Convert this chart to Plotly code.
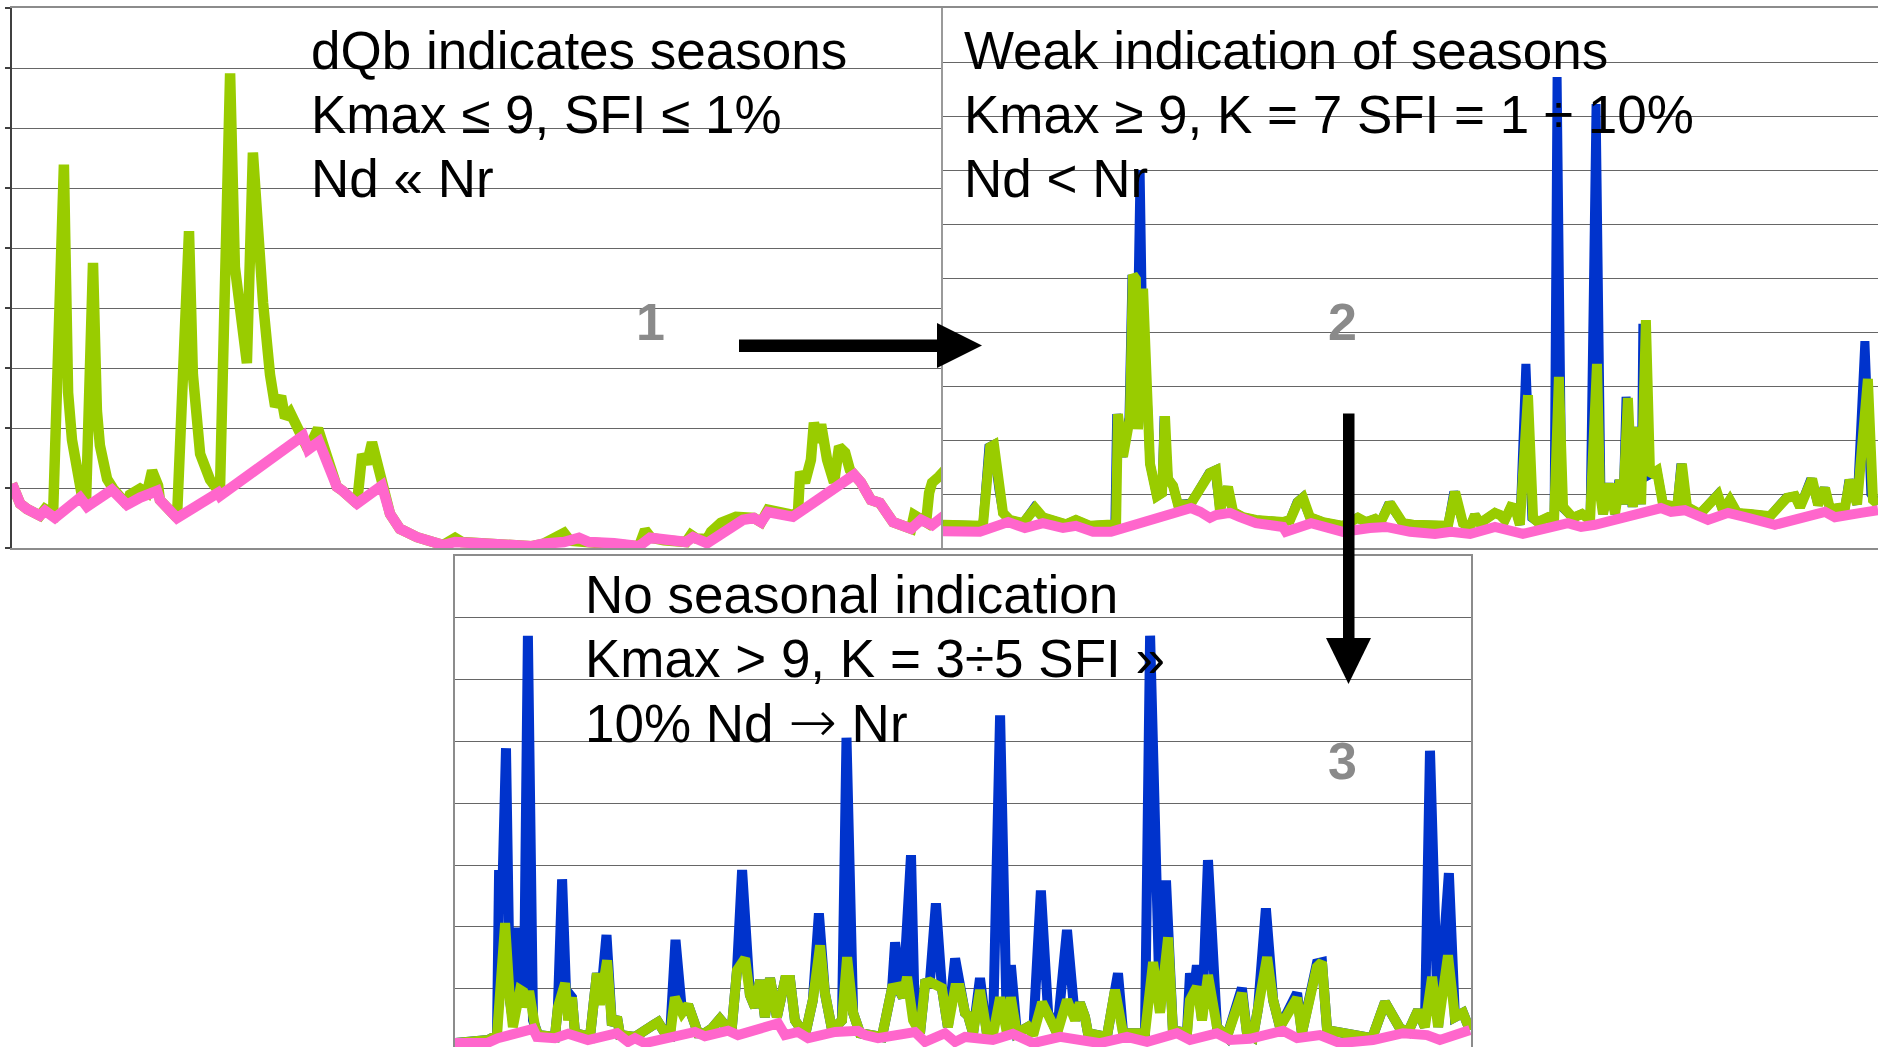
import plotly.graph_objects as go

W, H = 1878, 1047

# ---------------- DATA (time step, flow index) ----------------
# Panel 1: dQb indicates seasons
p1_green = [(0, 10.7), (2.7, 7.4), (5, 6.5), (9.3, 5.4), (11, 6.5), (13.7, 5.7), (17.3, 63.9), (18.7, 25.9),
            (20, 18.0), (21.7, 11.5), (23.3, 8.7), (24.7, 8.0), (27, 47.5), (28.3, 22.9), (29.3, 17.1),
            (31.7, 11.5), (33.7, 9.9), (38.3, 7.2), (39.3, 8.9), (42.7, 9.9), (45, 9.2), (46.7, 12.9),
            (48.7, 10.4), (49.3, 8.0), (55, 5.0), (59, 52.8), (60.3, 28.9), (62.7, 15.7), (66, 11.4),
            (69.3, 9.2), (72.7, 79.1), (74.3, 46.8), (78.3, 30.8), (80.3, 65.9), (81.7, 52.8), (83.7, 40.8),
            (86, 28.9), (87.7, 23.6), (89.7, 25.3), (91, 21.7), (92.7, 22.6), (95, 20.2), (97, 18.7),
            (98.7, 16.4), (102, 19.9), (103.3, 17.7), (108.3, 10.2), (110.3, 9.5), (115, 7.4), (116.7, 15.6),
            (118.3, 14.0), (120, 17.6), (122.7, 11.0), (124, 9.7), (126, 5.7), (129.3, 3.2), (135, 1.8),
            (143.7, 0.5), (147.7, 1.7), (150, 1.0), (159, 0.7), (173.3, 0.3), (177, 0.7), (184, 2.5),
            (186, 1.2), (192.3, 1.0), (200.7, 0.8), (209, 0.3), (211, 3.0), (213, 1.7), (217.3, 1.3),
            (224.7, 1.0), (226.3, 2.2), (228, 1.6), (231.7, 1.5), (233, 2.7), (236.3, 4.2), (241.3, 5.2),
            (247.3, 5.0), (249.7, 4.3), (252, 6.4), (260.3, 5.5), (262, 6.0), (262.7, 12.7), (264.3, 10.9),
            (266.3, 14.7), (267.3, 20.9), (268.7, 17.6), (269.7, 20.6), (271.7, 14.7), (274, 10.9),
            (275.7, 16.9), (277.7, 15.9), (279.3, 13.0), (280.7, 12.2), (283, 10.9), (286.3, 8.0),
            (289.3, 7.5), (293.7, 4.3), (299.7, 3.2), (300.7, 5.5), (303, 4.7), (304.7, 4.3), (305.7, 9.2),
            (306.7, 10.9), (309, 11.9), (311, 13.0)]
p1_pink = [(0, 10.7), (2.7, 7.4), (5, 6.5), (9.3, 5.4), (11, 6.2), (14.3, 5.0), (22.7, 8.4), (25, 6.9),
           (33.3, 9.7), (38.3, 7.2), (42.7, 8.4), (45, 8.7), (48.3, 9.5), (49.3, 8.0), (55, 5.0), (68.7, 9.2),
           (69.3, 8.7), (97, 18.7), (98.7, 16.4), (102.3, 17.7), (108.3, 10.2), (110.3, 9.5), (115, 7.4),
           (123.3, 10.4), (126, 5.7), (129.3, 3.2), (133, 2.2), (135, 1.8), (143.7, 0.5), (147.7, 1.0),
           (159, 0.7), (173.3, 0.3), (177, 0.7), (184, 1.0), (189, 1.7), (192.3, 1.0), (200.7, 0.8),
           (209, 0.3), (212.7, 1.7), (217.3, 1.3), (224.7, 1.0), (227, 1.8), (231.7, 0.8), (243.7, 4.7),
           (247.3, 5.0), (249.7, 4.3), (252, 6.0), (260.3, 5.2), (280.7, 12.2), (283, 10.9), (286.3, 8.0),
           (289.3, 7.5), (293.7, 4.3), (299.7, 3.2), (303, 4.7), (306.7, 3.8), (309, 5.0), (311, 5.5)]

# Panel 2: weak indication of seasons
p2_green = [(0, 4.3), (7.3, 4.4), (13.3, 4.1), (15.7, 18.7), (17, 19.1), (19, 10.7), (20, 6.5), (22.3, 5.2),
            (26.7, 4.6), (30.7, 7.4), (33.3, 5.7), (41, 4.4), (44.3, 5.2), (49, 4.1), (55.7, 4.4), (57.7, 4.4),
            (58.3, 24.8), (60, 16.9), (62.3, 24.1), (63.3, 50.6), (64.3, 49.8), (65, 22.0), (66.7, 48.0),
            (68, 28.7), (69, 15.6), (71.3, 9.6), (73, 10.2), (74, 24.4), (75, 12.8), (76.7, 11.5), (78.3, 8.1),
            (82.3, 8.0), (82.7, 8.3), (89, 13.9), (91, 14.4), (92.3, 7.0), (95, 11.3), (96.7, 6.7), (100, 5.7),
            (104.3, 5.2), (113.3, 4.8), (115.7, 5.2), (118.3, 8.5), (120, 9.3), (122.3, 5.7), (126.7, 4.8),
            (133.3, 4.1), (138.3, 5.6), (141, 4.8), (144, 5.4), (145.7, 4.6), (149, 8.3), (150.7, 6.5),
            (153.3, 4.6), (156.7, 4.3), (159.3, 4.3), (164, 3.9), (166.7, 4.3), (168.3, 4.1), (170.7, 10.4),
            (173.3, 4.6), (175.7, 3.9), (177.3, 6.1), (179, 4.6), (181.7, 5.6), (184, 6.5), (185.7, 6.1),
            (187.3, 5.2), (189.3, 7.6), (190.7, 7.4), (192.3, 4.3), (195, 28.3), (196.7, 5.6), (198.3, 4.8),
            (201.7, 5.7), (203.7, 5.2), (205.3, 31.7), (206.7, 7.6), (210, 5.6), (213, 6.3), (215.7, 5.2),
            (218, 34.1), (219, 10.2), (220, 6.3), (222.3, 11.9), (224, 6.3), (225.7, 12.6), (226.7, 8.1),
            (228.3, 27.8), (230, 7.6), (231.3, 22.4), (232.7, 8.1), (234.3, 42.2), (235.7, 13.5), (238, 14.3),
            (240, 8.1), (244.7, 7.6), (246.3, 15.6), (248, 7.6), (252.3, 6.3), (258.3, 9.8), (260, 6.9),
            (262.3, 8.9), (264.7, 6.5), (269, 6.3), (275.7, 5.9), (281.3, 9.3), (284, 9.6), (285.7, 7.6),
            (289.7, 12.8), (291.7, 8.0), (294, 11.1), (295.7, 7.2), (300.7, 7.6), (302.3, 12.6), (304.7, 8.1),
            (308.3, 31.3), (310, 8.9), (311.7, 8.1)]
p2_blue = [(0, 4.3), (7.3, 4.4), (13.3, 4.1), (15.3, 18.7), (16.7, 19.1), (18.7, 10.7), (20, 6.5), (22.3, 5.2),
           (26.7, 4.6), (30.3, 7.4), (33.3, 5.7), (41, 4.4), (44.3, 5.2), (49, 4.1), (55.7, 4.4), (57.3, 4.4),
           (57.9, 24.8), (59.7, 16.9), (62, 24.1), (63, 50.6), (64.3, 23.7), (65.7, 70.0), (67, 23.7),
           (68, 28.7), (69, 15.6), (71.3, 9.6), (73, 10.2), (73.7, 24.4), (75, 12.8), (76.7, 11.5), (78.3, 8.1),
           (82.3, 8.0), (82.7, 8.3), (88.7, 13.9), (90.7, 14.4), (92.3, 7.0), (94.7, 11.3), (96.7, 6.7),
           (100, 5.7), (104.3, 5.2), (113.3, 4.8), (115.7, 5.2), (118, 8.5), (119.7, 9.3), (122.3, 5.7),
           (126.7, 4.8), (133.3, 4.1), (138, 5.6), (141, 4.8), (144, 5.4), (145.7, 4.6), (148.7, 8.3),
           (150.7, 6.5), (153.3, 4.6), (156.7, 4.3), (159.3, 4.3), (164, 3.9), (166.7, 4.3), (168.3, 4.1),
           (170.3, 10.4), (173.3, 4.6), (175.7, 3.9), (177.3, 6.1), (179, 4.6), (181.7, 5.6), (184, 6.5),
           (185.7, 6.1), (187.3, 5.2), (189.3, 7.6), (190.7, 7.4), (192.3, 4.3), (194.3, 34.1), (196.3, 5.6),
           (198.3, 4.8), (201.7, 5.7), (203.7, 5.2), (204.7, 87.2), (206.3, 7.6), (210, 5.6), (213, 6.3),
           (215.7, 5.2), (217.7, 82.2), (219.3, 10.2), (220, 6.3), (222, 11.9), (224, 6.3), (225.3, 12.6),
           (226.7, 8.1), (227.7, 28.0), (229.7, 7.6), (231, 22.4), (232.7, 8.1), (233.3, 41.5), (235.3, 13.5),
           (238, 14.3), (240, 8.1), (244.7, 7.6), (246, 15.6), (248, 7.6), (252.3, 6.3), (258, 9.8), (260, 6.9),
           (262.3, 8.9), (264.7, 6.5), (269, 6.3), (275.7, 5.9), (281, 9.3), (284, 9.6), (285.7, 7.6),
           (289.3, 12.8), (291.7, 8.0), (293.7, 11.1), (295.7, 7.2), (300.7, 7.6), (302, 12.6), (304.7, 8.1),
           (307.3, 38.3), (309.3, 10.0), (311.7, 8.1)]
p2_pink = [(0, 3.1), (4.3, 3.1), (12.3, 3.0), (21.7, 4.8), (27.3, 3.7), (33.3, 4.6), (40, 3.7), (44.3, 4.1),
           (50, 3.0), (56, 3.0), (82.7, 7.4), (85.7, 6.7), (89, 5.6), (91, 6.1), (95.7, 6.5), (99, 5.7),
           (104.3, 4.6), (113.3, 3.9), (114.3, 3.0), (122.7, 4.6), (133.3, 3.0), (142.3, 3.7), (147.7, 3.9),
           (155.7, 3.0), (164, 2.6), (169.3, 3.0), (175.7, 2.6), (184, 3.9), (188.3, 3.3), (193.3, 2.6),
           (208.3, 4.6), (212.7, 3.9), (217.3, 4.3), (239.3, 7.4), (242.7, 6.7), (247.3, 7.0), (255, 5.2),
           (261.7, 6.5), (268.3, 5.6), (277.3, 4.3), (294, 6.7), (297.3, 5.7), (306, 6.5), (311.7, 7.0)]

# Panel 3: no seasonal indication
p3_green = [(0, 1.2), (11, 1.7), (14, 2.5), (16.7, 20.6), (18.3, 8.2), (19.3, 3.8), (21.7, 9.8), (22.7, 9.5),
            (23.3, 7.0), (24.7, 9.6), (26.7, 3.8), (27.7, 2.5), (33.3, 2.2), (34.3, 7.0), (36.7, 10.9),
            (37.7, 4.9), (39, 8.6), (40, 2.8), (45, 2.2), (47.3, 12.5), (48.3, 7.4), (50.7, 14.6), (52.3, 4.1),
            (54, 5.4), (55, 2.5), (60, 2.2), (66, 4.1), (67.7, 4.6), (70, 2.8), (71.7, 2.5), (73.3, 8.6),
            (75.7, 6.1), (77.7, 7.4), (79.3, 5.4), (81, 2.8), (83.3, 2.8), (85.7, 3.6), (88.3, 5.1), (90, 4.1),
            (92.3, 3.8), (94, 13.0), (96.7, 14.9), (98.3, 9.0), (100, 7.0), (101.7, 11.4), (103.3, 5.4),
            (105, 11.7), (107.3, 5.4), (110, 11.4), (111.7, 11.4), (113.3, 4.9), (116.7, 2.5), (119.3, 8.2),
            (121.7, 17.0), (123.3, 9.3), (125.7, 3.3), (129, 4.9), (130.7, 15.1), (132.7, 6.1), (135, 2.8),
            (142.3, 2.2), (145.7, 10.1), (147.7, 10.3), (149.3, 8.6), (150.7, 11.9), (152.7, 4.9), (155, 2.8),
            (156.7, 10.9), (158.3, 11.1), (162.3, 10.1), (164.3, 3.8), (166.7, 10.1), (168.3, 10.1), (170, 6.1),
            (171, 5.7), (172.7, 2.8), (175, 9.8), (177.3, 2.8), (179.3, 2.5), (181.7, 8.6), (184, 2.8),
            (185.3, 8.6), (187.3, 2.8), (191, 3.8), (192.7, 2.5), (195.7, 7.8), (197.7, 6.1), (200.7, 2.8),
            (204, 8.2), (206.7, 4.9), (208.3, 7.7), (210, 5.4), (211, 2.8), (217.3, 2.2), (220, 9.8),
            (222.7, 2.8), (230, 2.8), (232.7, 14.3), (235, 6.1), (237.7, 18.3), (239.3, 3.3), (244, 2.8),
            (245, 8.2), (247.3, 10.3), (249, 4.9), (251, 12.2), (254, 3.8), (257.3, 2.2), (262.3, 9.3),
            (264, 2.8), (266, 2.2), (267.7, 6.9), (270.7, 15.1), (272.7, 8.2), (275, 3.8), (280.7, 8.5),
            (282.3, 2.8), (287.3, 13.5), (289, 14.3), (290.7, 3.3), (298.3, 2.5), (301.7, 2.2), (305.7, 2.0),
            (310, 7.8), (312.7, 5.4), (315, 3.6), (317.7, 3.0), (321, 6.5), (323.3, 3.8), (325.7, 11.9),
            (327.7, 3.8), (331, 15.4), (333.3, 5.4), (336, 6.1), (338.3, 3.3)]
p3_blue = [(0, 1.2), (11, 1.7), (14, 2.5), (14.7, 29.2), (15.7, 24.3), (17, 48.9), (18.3, 8.2), (19.3, 4.9),
           (21, 19.1), (22, 19.1), (23, 9.5), (24.3, 67.1), (26, 4.9), (27.7, 2.5), (33.3, 2.2), (34.3, 7.0),
           (35.7, 27.7), (37, 9.8), (39, 8.6), (40, 2.8), (45, 2.2), (47.3, 12.5), (48.7, 9.0), (50.5, 18.7),
           (52.3, 4.1), (54, 5.4), (55, 2.5), (60, 2.2), (66, 4.1), (67.7, 4.6), (70, 2.8), (71.7, 2.5),
           (73.5, 17.9), (75.7, 6.1), (77.7, 7.4), (79.3, 5.4), (81, 2.8), (83.3, 2.8), (85.7, 3.6), (88.3, 5.1),
           (90, 4.1), (92.3, 3.8), (94, 13.0), (95.7, 29.2), (98.3, 9.0), (100, 7.0), (101.7, 11.4),
           (103.3, 5.4), (105, 11.7), (107.3, 5.4), (110, 11.4), (111.7, 11.4), (113.3, 4.9), (116.7, 2.5),
           (119.3, 8.2), (121.3, 22.2), (123.3, 9.3), (125.7, 3.3), (129, 4.9), (130.5, 50.6), (132.7, 6.1),
           (135, 2.8), (142.3, 2.2), (145.7, 10.1), (146.7, 17.5), (148.3, 9.5), (149.3, 8.6), (152, 31.6),
           (153.3, 4.9), (155, 2.8), (156.7, 10.9), (158.3, 11.1), (160.3, 23.8), (162.3, 10.1), (164.3, 3.8),
           (166.7, 14.9), (168.3, 10.1), (170, 6.1), (171, 5.7), (172.7, 2.8), (175, 11.7), (177.3, 2.8),
           (179.3, 2.5), (181.7, 54.2), (184, 2.8), (185.3, 13.8), (187.3, 2.8), (191, 3.8), (192.7, 2.5),
           (195.3, 25.9), (197.7, 6.1), (200.7, 2.8), (204, 19.5), (206.7, 4.9), (208.3, 7.7), (210, 5.4),
           (211, 2.8), (217.3, 2.2), (221, 12.5), (222.7, 2.8), (230, 2.8), (231.7, 67.1), (235, 6.1),
           (237, 27.5), (239.3, 3.3), (244, 2.8), (245, 12.5), (246.2, 9.0), (247.3, 13.8), (249, 4.9),
           (251, 30.8), (254, 3.8), (257.3, 2.2), (262.3, 10.1), (264, 2.8), (266, 2.2), (267.7, 6.9),
           (270.3, 23.0), (272.7, 8.2), (275, 3.8), (280.7, 9.3), (282.3, 2.8), (287.3, 14.1), (289, 14.3),
           (290.7, 3.3), (298.3, 2.5), (301.7, 2.2), (305.7, 2.0), (310, 7.8), (312.7, 5.4), (315, 3.6),
           (317.7, 3.0), (321, 6.5), (323.3, 3.8), (325, 48.5), (327.7, 3.8), (331.3, 28.7), (333.3, 5.4),
           (336, 6.1), (338.3, 3.3)]
p3_pink = [(0, 1.2), (10.7, 1.2), (14.3, 2.0), (26, 3.5), (27.3, 2.2), (33.3, 2.0), (37.7, 2.7), (44.3, 1.7),
           (54, 2.8), (57.7, 1.4), (60, 2.0), (63.3, 1.2), (80, 3.0), (83.3, 2.3), (91, 3.2), (94.3, 2.5),
           (107.7, 4.4), (110, 2.5), (114.3, 3.0), (117.7, 2.0), (126.7, 3.0), (134.3, 3.2), (136.7, 2.5),
           (141, 2.0), (153.3, 3.0), (156.7, 1.4), (163.3, 2.8), (166.7, 1.4), (170, 2.2), (175, 2.0),
           (179.3, 1.7), (186, 2.7), (192.7, 1.2), (201.7, 2.2), (210.7, 1.7), (215, 1.2), (224, 2.2),
           (230.7, 1.4), (240.7, 2.8), (245, 1.7), (254, 2.8), (258.3, 1.7), (265, 1.9), (276, 3.2),
           (280.7, 2.0), (288.3, 2.5), (295, 1.2), (306, 1.7), (316, 2.8), (324, 2.5), (328.3, 1.7),
           (338.3, 3.3)]

p1_text = ["dQb indicates seasons", "Kmax ≤ 9, SFI ≤ 1%", "Nd « Nr"]
p2_text = ["Weak indication of seasons", "Kmax ≥ 9, K = 7 SFI = 1 ÷ 10%", "Nd &lt; Nr"]
p3_text = ["No seasonal indication", "Kmax > 9, K = 3÷5 SFI »",
           "10% Nd <span style='font-family:DejaVu Sans;font-weight:200;font-size:58px'>→</span> Nr"]
panel_labels = ["1", "2", "3"]

# ---------------- STYLE ----------------
GREEN, BLUE, PINK = "#99CC00", "#0033CC", "#FF66CC"
GRID = "#666666"
FONT = "Liberation Sans, Arial, sans-serif"


def fx(px):
    return px / W


def fy(py):
    return 1 - py / H


fig = go.Figure()


def add(series, color, width, xa, ya):
    fig.add_trace(go.Scatter(x=[p[0] for p in series], y=[p[1] for p in series], mode="lines",
                             line=dict(color=color, width=width), xaxis=xa, yaxis=ya,
                             hoverinfo="skip", showlegend=False))


add(p1_green, GREEN, 10.5, "x", "y")
add(p1_pink, PINK, 10.5, "x", "y")
add(p2_blue, BLUE, 9, "x2", "y2")
add(p2_green, GREEN, 10, "x2", "y2")
add(p2_pink, PINK, 10, "x2", "y2")
add(p3_blue, BLUE, 10, "x3", "y3")
add(p3_green, GREEN, 10, "x3", "y3")
add(p3_pink, PINK, 10, "x3", "y3")

common_x = dict(showgrid=False, zeroline=False, showticklabels=False, ticks="", fixedrange=True)
common_y = dict(showgrid=True, gridcolor=GRID, gridwidth=1.3, zeroline=False, showticklabels=False,
                dtick=10, tick0=0, fixedrange=True)

annotations = []


def ann(text, px, py, size, color="black", xanchor="left"):
    annotations.append(dict(text=text, x=fx(px), y=fy(py), xref="paper", yref="paper", xanchor=xanchor,
                            yanchor="middle", showarrow=False, borderpad=0, borderwidth=0,
                            font=dict(family=FONT, size=size, color=color)))


for txt, py in zip(p1_text, [50.5, 114, 178.5]):
    ann(txt, 311, py, 53)
for txt, py in zip(p2_text, [50.5, 114, 178.5]):
    ann(txt, 964, py, 53)
for txt, py in zip(p3_text, [594.5, 658.5, 722]):
    ann(txt, 585, py, 53)
for lab, (px, py) in zip(panel_labels, [(650, 321.5), (1342, 322), (1342, 761)]):
    ann("<b>" + lab + "</b>", px, py, 52, color="#8a8a8a", xanchor="center")

shapes = [
    dict(type="rect", xref="paper", yref="paper", x0=fx(739), x1=fx(942), y0=fy(352), y1=fy(339.5),
         fillcolor="black", line=dict(width=0), layer="above"),
    dict(type="path", xref="paper", yref="paper",
         path=f"M {fx(937)},{fy(323)} L {fx(982)},{fy(345.5)} L {fx(937)},{fy(368)} Z",
         fillcolor="black", line=dict(width=0), layer="above"),
    dict(type="rect", xref="paper", yref="paper", x0=fx(1343), x1=fx(1354.5), y0=fy(642), y1=fy(413.5),
         fillcolor="black", line=dict(width=0), layer="above"),
    dict(type="path", xref="paper", yref="paper",
         path=f"M {fx(1326)},{fy(638)} L {fx(1371)},{fy(638)} L {fx(1348.5)},{fy(684)} Z",
         fillcolor="black", line=dict(width=0), layer="above"),
]

fig.update_layout(
    width=W, height=H, margin=dict(l=0, r=0, t=0, b=0),
    paper_bgcolor="white", plot_bgcolor="white", showlegend=False,
    xaxis=dict(domain=[fx(12), fx(943)], range=[0, 310.33], anchor="y", showline=True, mirror=True,
               linecolor="#8c8c8c", linewidth=2, **common_x),
    yaxis=dict(domain=[fy(548), fy(8)], range=[0, 90], anchor="x", showline=True, linecolor="#404040",
               linewidth=2, ticks="outside", ticklen=5, tickcolor="#404040", tickwidth=1.5, **common_y),
    xaxis2=dict(domain=[fx(943), 1.0], range=[0, 311.67], anchor="y2", showline=True, mirror=True,
                linecolor="#8c8c8c", linewidth=2, **common_x),
    yaxis2=dict(domain=[fy(548), fy(8)], range=[0, 100], anchor="x2", showline=True, linecolor="#9a9a9a",
                linewidth=2, ticks="", **common_y),
    xaxis3=dict(domain=[fx(455), fx(1471)], range=[0, 338.67], anchor="y3", side="top", showline=True,
                linecolor="#8c8c8c", linewidth=2, **common_x),
    yaxis3=dict(domain=[0, fy(556)], range=[0.57, 80], anchor="x3", showline=True, mirror=True,
                linecolor="#8c8c8c", linewidth=2, ticks="", **common_y),
    annotations=annotations,
    shapes=shapes,
)

fig.write_html("out.html")
